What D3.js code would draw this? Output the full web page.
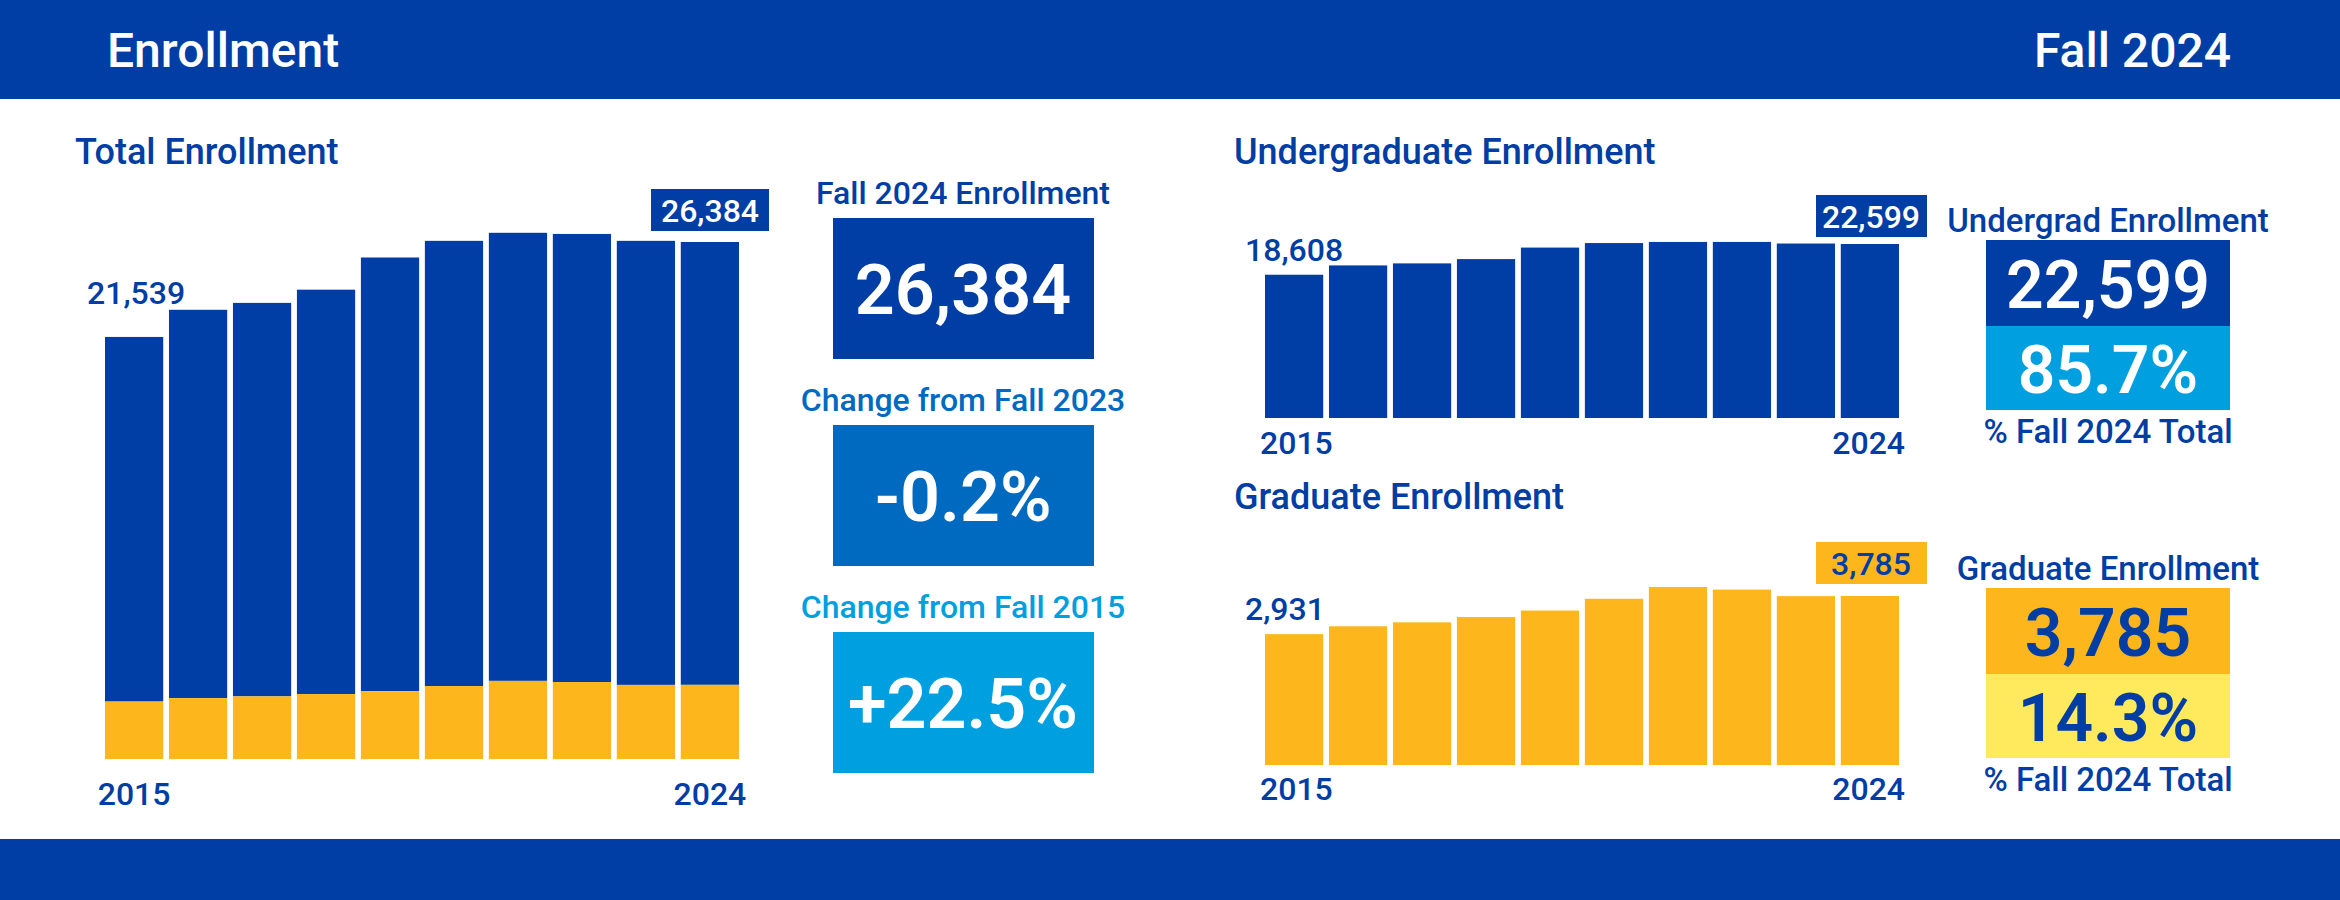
<!DOCTYPE html>
<html><head><meta charset="utf-8">
<script src="https://cdn.jsdelivr.net/npm/d3@7"></script>
<style>body{margin:0;background:#fff}svg{display:block}text{font-family:"Roboto","Noto Sans",sans-serif}</style>
</head><body><svg id="c" width="2340" height="900"></svg>
<script>
// data
var years = [2015,2016,2017,2018,2019,2020,2021,2022,2023,2024];
var total = [21539,22925,23277,23951,25593,26443,26853,26795,26443,26384];
var grad  = [2931,3107,3195,3313,3459,3723,3987,3928,3782,3785];
var under = total.map(function(t,i){ return t - grad[i]; });
var kpiLabels = ["Fall 2024 Enrollment","Change from Fall 2023","Change from Fall 2015"];
var kpiValues = ["26,384","-0.2%","+22.5%"];

var BLUE="#003da5", GOLD="#fdb71c", MID="#0069c0", SKY="#009fdf", YEL="#ffe95c";
var fmt = d3.format(",");
var svg = d3.select("#c");

// header / footer bands
svg.append("rect").attr("width",2340).attr("height",99).attr("fill",BLUE);
svg.append("rect").attr("y",839).attr("width",2340).attr("height",61).attr("fill",BLUE);
svg.append("text").attr("x",107).attr("y",67).attr("fill","#fff").attr("font-size",48).attr("font-weight",500).text("Enrollment");
svg.append("text").attr("x",2231).attr("y",67).attr("text-anchor","end").attr("fill","#fff").attr("font-size",48).attr("font-weight",500).text("Fall 2024");

function title(x,y,t){
  svg.append("text").attr("x",x).attr("y",y).attr("fill",BLUE).attr("font-size",36).attr("font-weight",500).text(t);
}
function label(x,y,t,col,anchor,size,w){
  return svg.append("text").attr("x",x).attr("y",y).attr("fill",col||BLUE).attr("text-anchor",anchor||"start")
    .attr("font-size",size||32).attr("font-weight",w||500).text(t);
}

// ---------- total stacked chart
title(75,164,"Total Enrollment");
var x1 = d3.scaleBand().domain(years).range([105,739]).paddingInner(0.09);
var y1 = d3.scaleLinear().domain([0,26384]).range([759,242]);
svg.append("g").selectAll("rect").data(years).enter().append("rect")
  .attr("x",function(d){return x1(d);}).attr("width",x1.bandwidth())
  .attr("y",function(d,i){return y1(total[i]);})
  .attr("height",function(d,i){return y1(grad[i]) - y1(total[i]);}).attr("fill",BLUE);
svg.append("g").selectAll("rect").data(years).enter().append("rect")
  .attr("x",function(d){return x1(d);}).attr("width",x1.bandwidth())
  .attr("y",function(d,i){return y1(grad[i]);})
  .attr("height",function(d,i){return y1(0) - y1(grad[i]);}).attr("fill",GOLD);
label(x1(2015)-18,304,fmt(total[0]));
svg.append("rect").attr("x",651).attr("y",189).attr("width",118).attr("height",42).attr("fill",BLUE);
label(710,222,fmt(total[9]),"#fff","middle");
label(x1(2015)+x1.bandwidth()/2,805,"2015",BLUE,"middle");
label(x1(2024)+x1.bandwidth()/2,805,"2024",BLUE,"middle");

// ---------- KPI column
var kpiCols = [BLUE,MID,SKY], kpiText=[BLUE,MID,SKY], kpiY=[218,425,632];
kpiLabels.forEach(function(l,i){
  label(963,kpiY[i]-14,l,kpiText[i],"middle",32);
  svg.append("rect").attr("x",833).attr("y",kpiY[i]).attr("width",261).attr("height",141).attr("fill",kpiCols[i]);
  label(963,kpiY[i]+96,kpiValues[i],"#fff","middle",70,600);
});

// ---------- small charts
function small(vals,top,bottom,col,boxCol,boxTxt,labY,yearY,boxY){
  var x = d3.scaleBand().domain(years).range([1265,1899]).paddingInner(0.09);
  var y = d3.scaleLinear().domain([0,vals[9]]).range([bottom,top]);
  svg.append("g").selectAll("rect").data(vals).enter().append("rect")
    .attr("x",function(d,i){return x(years[i]);}).attr("width",x.bandwidth())
    .attr("y",function(d){return y(d);}).attr("height",function(d){return y(0)-y(d);}).attr("fill",col);
  label(x(2015)-20,labY,fmt(vals[0]));
  svg.append("rect").attr("x",1816).attr("y",boxY).attr("width",111).attr("height",42).attr("fill",boxCol);
  label(1871,boxY+33,fmt(vals[9]),boxTxt,"middle");
  label(x(2015)-5,yearY,"2015");
  label(1905,yearY,"2024",BLUE,"end");
}
title(1234,164,"Undergraduate Enrollment");
small(under,244,418,BLUE,BLUE,"#fff",261,454,195);
title(1234,509,"Graduate Enrollment");
small(grad,596,765,GOLD,GOLD,BLUE,620,800,542);

// right KPI blocks
function kpi2(lbl,top,c1,c2,tc,v1,v2){
  label(2108,top-8,lbl,BLUE,"middle",33);
  svg.append("rect").attr("x",1986).attr("y",top).attr("width",244).attr("height",86).attr("fill",c1);
  svg.append("rect").attr("x",1986).attr("y",top+86).attr("width",244).attr("height",84).attr("fill",c2);
  label(2108,top+68,v1,tc,"middle",66,600);
  label(2108,top+153,v2,tc,"middle",66,600);
  label(2108,top+203,"% Fall 2024 Total",BLUE,"middle",33);
}
kpi2("Undergrad Enrollment",240,BLUE,SKY,"#fff",fmt(under[9]),"85.7%");
kpi2("Graduate Enrollment",588,GOLD,YEL,BLUE,fmt(grad[9]),"14.3%");
</script></body></html>
